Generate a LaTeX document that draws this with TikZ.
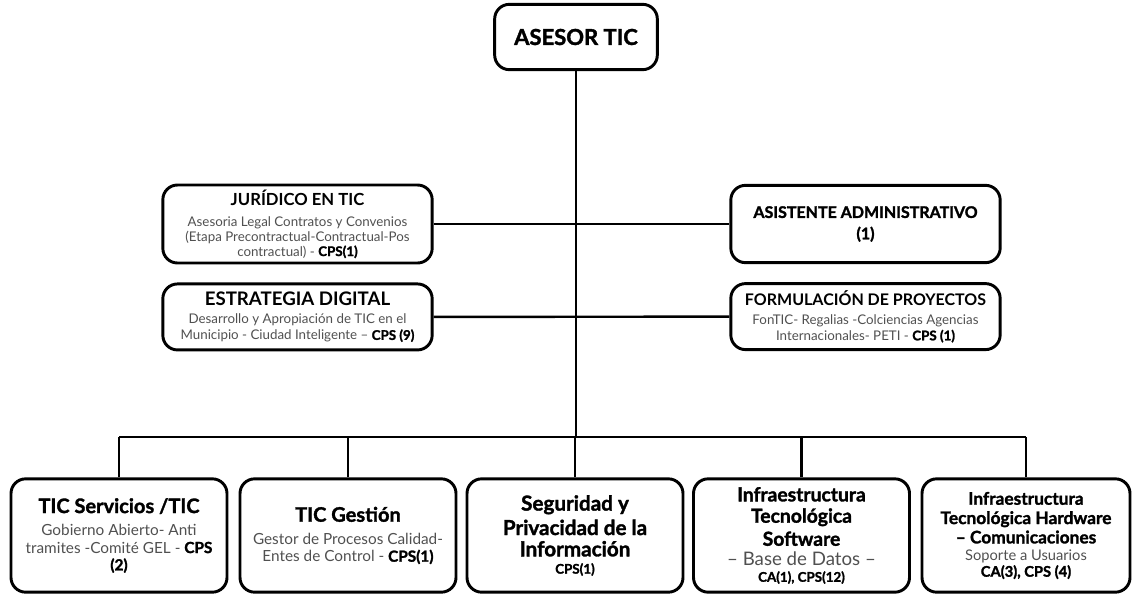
\documentclass[tikz,border=0pt]{standalone}
\usepackage{fontspec}
\setmainfont{Lato}
\newfontfamily\heavyfont{Lato}[BoldFeatures={FakeBold=1.6}]
\usepackage{xcolor}
\usetikzlibrary{positioning}

\definecolor{desctext}{HTML}{505050}
\newcommand{\ttl}[2][13]{{\color{black}\fontsize{#1}{14}\selectfont\bfseries #2}}
\newcommand{\btl}[2][15]{{\color{black}\fontsize{#1}{14}\selectfont\heavyfont\bfseries #2}}
\newcommand{\cps}[1]{{\color{black}\heavyfont\bfseries #1}}

\begin{document}
\begin{tikzpicture}[
  x=0.75pt, y=-0.75pt,
  box/.style={draw, rounded corners=11pt, line width=2.2pt, align=center,
    text=desctext, font=\fontsize{10}{11}\selectfont, inner sep=1pt},
  midbox/.style={box, minimum width=202pt},
  lowbox/.style={box, minimum width=162pt, minimum height=85pt, inner sep=0pt,
    font=\fontsize{11.5}{13}\selectfont},
  link/.style={line width=1.8pt},
]
\useasboundingbox (0,0) rectangle (1132,596);

% Nodes
\node[box, minimum width=122pt, minimum height=49pt] (asesor) at (576,37)
  {\btl[16.5]{ASESOR TIC}};

\node[midbox, minimum height=58.5pt] (juridico) at (297.5,224)
  {\ttl[12.5]{JURÍDICO EN TIC}\\[5pt]
   Asesoria Legal Contratos y Convenios\\
   (Etapa Precontractual-Contractual-Pos\\
   contractual) - \cps{CPS(1)}};
\node[midbox, minimum height=58pt] (asistente) at (865.5,224)
  {\btl[12]{ASISTENTE ADMINISTRATIVO}\\[5pt] \btl[12]{(1)}};

\node[midbox, minimum height=49.5pt, below=13.5pt of juridico,
  font=\fontsize{10}{12.5}\selectfont] (estrategia)
  {\ttl[14]{ESTRATEGIA DIGITAL}\\[1pt]
   Desarrollo y Apropiación de TIC en el\\
   Municipio - Ciudad Inteligente – \cps{CPS (9)}};
\node[midbox, minimum height=49.5pt, below=13.5pt of asistente,
  font=\fontsize{10}{12}\selectfont] (formulacion)
  {\ttl[12]{FORMULACIÓN DE PROYECTOS}\\[2pt]
   FonTIC- Regalias -Colciencias Agencias\\
   Internacionales- PETI - \cps{CPS (1)}};

\node[lowbox] (servicios) at (119,535.5)
  {\btl{TIC Servicios /TIC}\\[4pt]
   Gobierno Abierto- Anti\\
   tramites -Comité GEL - \cps{CPS}\\
   \cps{(2)}};
\node[lowbox] (gestion) at (348,535.5)
  {\btl{TIC Gestión}\\[4pt]
   Gestor de Procesos Calidad-\\
   Entes de Control - \cps{CPS(1)}};
\node[lowbox] (seguridad) at (575,535.5)
  {\btl[15.5]{Seguridad y}\\[3pt]
   \btl[15.5]{Privacidad de la}\\[3pt]
   \btl[15.5]{Información}\\[0pt]
   {\fontsize{10}{11}\selectfont\cps{CPS(1)}}};
\node[lowbox] (software) at (801.5,535.5)
  {\btl[14.5]{Infraestructura}\\[3pt]
   \btl[14.5]{Tecnológica}\\[3pt]
   \btl[14.5]{Software}\\[2pt]
   {\fontsize{14}{14}\selectfont – Base de Datos –}\\[-1pt]
   {\fontsize{10}{11}\selectfont\cps{CA(1), CPS(12)}}};
\node[lowbox, minimum width=156pt, font=\fontsize{11}{12.5}\selectfont] (hardware) at (1026,535.5)
  {\btl[13]{Infraestructura}\\[2pt]
   \btl[13]{Tecnológica Hardware}\\[2pt]
   \btl[13]{– Comunicaciones}\\[0pt]
   Soporte a Usuarios\\[0pt]
   \cps{CA(3), CPS (4)}};

\coordinate (bus) at (576,437);

% Connectors
\draw[link] (asesor.south) -- (bus);
\draw[link] (juridico.east) -- (asistente.west);
\draw[link] (estrategia.east) -- (formulacion.west);
\draw[link] (servicios.north |- bus) -- (hardware.north |- bus);
\foreach \n in {servicios, gestion, seguridad, software, hardware}
  \draw[link] (\n.north) -- (\n.north |- bus);

\end{tikzpicture}
\end{document}
